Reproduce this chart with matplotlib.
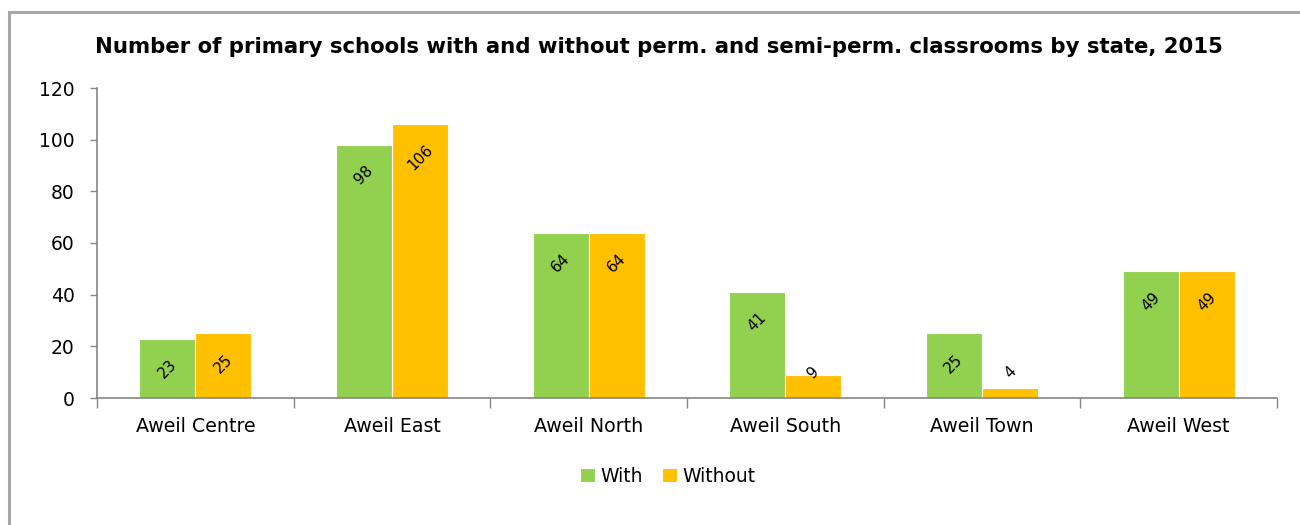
import matplotlib
matplotlib.use("Agg")
import matplotlib.pyplot as plt
from matplotlib.patches import Rectangle
import numpy as np

categories = ["Aweil Centre", "Aweil East", "Aweil North", "Aweil South", "Aweil Town", "Aweil West"]
with_vals = [23, 98, 64, 41, 25, 49]
without_vals = [25, 106, 64, 9, 4, 49]
series_names = ["With", "Without"]
colors = ["#92D050", "#FFC000"]

plt.rcParams["font.family"] = ["DejaVu Sans"]

fig = plt.figure(figsize=(13, 5.25), dpi=100)
ax = fig.add_axes([97 / 1300, 1 - 398 / 525, 1180 / 1300, 310 / 525])

# outer chart frame
fig.patches.append(Rectangle((9 / 1300, -0.05), 1.2, 1 - 12 / 525 + 0.05,
                             transform=fig.transFigure, fill=False,
                             edgecolor="#A6A6A6", linewidth=2.2, zorder=0))

x = np.arange(len(categories))
bw = 0.285
for i, (vals, name, col) in enumerate(zip([with_vals, without_vals], series_names, colors)):
    offs = (i - 0.5) * bw
    ax.bar(x + offs, vals, width=bw, color=col, edgecolor="white",
           linewidth=0.8, label=name, zorder=2)
    for xi, v in zip(x, vals):
        ax.text(xi + offs, max(v - 7.0, 13.2), str(v), rotation=45,
                ha="center", va="top", fontsize=11, color="black", zorder=3)

ax.set_xlim(-0.5, len(categories) - 0.5)
ax.set_ylim(0, 120)
ax.set_yticks(np.arange(0, 121, 20))
ax.tick_params(axis="y", labelsize=13.5, length=5, width=1, color="#868686", pad=11)

# category separators as major ticks, names as minor ticks
ax.set_xticks(np.arange(-0.5, len(categories), 1.0))
ax.set_xticklabels([])
ax.set_xticks(x, minor=True)
ax.set_xticklabels(categories, minor=True)
ax.tick_params(axis="x", which="major", length=7, width=1, color="#868686")
ax.tick_params(axis="x", which="minor", length=0, labelsize=13.7, pad=14)

for s in ["top", "right"]:
    ax.spines[s].set_visible(False)
for s in ["left", "bottom"]:
    ax.spines[s].set_color("#868686")
    ax.spines[s].set_linewidth(1.2)

fig.text(659 / 1300, 1 - 47 / 525, "Number of primary schools with and without perm. and semi-perm. classrooms by state, 2015",
         ha="center", va="center", fontsize=15.3, fontweight="bold")

fig.legend(loc="center", bbox_to_anchor=(668 / 1300, 1 - 476 / 525), ncol=2,
           frameon=False, fontsize=13.5, handlelength=0.8, handleheight=0.8,
           handletextpad=0.3, columnspacing=1.0)

fig.savefig("out.png", dpi=100)
